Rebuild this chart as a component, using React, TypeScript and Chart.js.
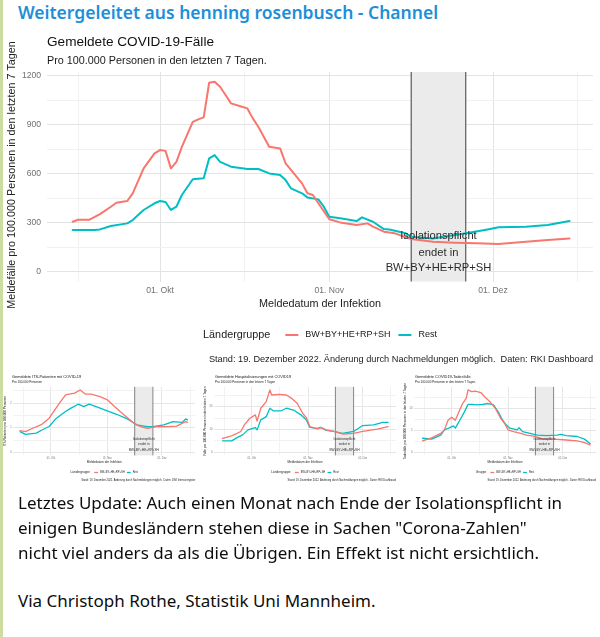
import React, { useEffect, useRef } from 'react';
import { Chart, registerables } from 'chart.js';
Chart.register(...registerables);

const FONT = '"Liberation Sans", Arial, sans-serif';
const UI_FONT = '"Noto Sans", "Open Sans", sans-serif';
const RED = '#F8766D';
const TEAL = '#00BFC4';

// ---------- shared axis data (x = days since 01.10.2022) ----------
const xMajorTicks = [0, 31, 61];
const xTickLabels = ['01. Okt', '01. Nov', '01. Dez'];
const xMinorTicks = [-15, 15.5, 46, 76.5];
const isolationStart = 46;
const isolationEnd = 56;
const annotationLines = ['Isolationspflicht', 'endet in', 'BW+BY+HE+RP+SH'];
const seriesNames = ['BW+BY+HE+RP+SH', 'Rest'];

// ---------- main chart: Gemeldete COVID-19-Fälle ----------
const casesYMajor = [0, 300, 600, 900, 1200];
const casesYMinor = [150, 450, 750, 1050];
const casesYLabels = ['0', '300', '600', '900', '1200'];
const casesRedDays = [-16, -15, -13, -11, -9, -8, -6, -5, -3, -1, 0, 1, 2, 3, 4, 6, 7, 8, 9, 10, 11, 12, 13, 15, 16, 17, 18, 20, 22, 23, 25, 26, 27, 28, 29, 31, 33, 36, 38, 39, 41, 43, 46, 50, 54, 58, 62, 67, 71, 75];
const casesRedValues = [306, 318, 318, 353, 398, 422, 433, 480, 633, 725, 745, 740, 633, 673, 765, 918, 933, 945, 1157, 1163, 1133, 1082, 1031, 1010, 1000, 939, 888, 765, 755, 663, 582, 541, 480, 470, 419, 321, 302, 286, 296, 276, 245, 235, 200, 184, 178, 174, 170, 184, 194, 204];
const casesTealDays = [-16, -12, -11, -9, -6, -5, -3, -1, 0, 1, 2, 3, 4, 6, 8, 9, 10, 11, 13, 16, 18, 20, 22, 23, 24, 26, 27, 29, 30, 31, 33, 36, 37, 39, 41, 42, 45, 46, 50, 56, 60, 62, 67, 71, 75];
const casesTealValues = [255, 255, 259, 280, 296, 316, 378, 419, 433, 427, 378, 398, 470, 566, 572, 694, 714, 673, 643, 629, 629, 602, 592, 561, 510, 480, 455, 443, 398, 337, 327, 310, 333, 306, 261, 259, 235, 214, 204, 235, 259, 272, 276, 286, 310];

// ---------- mini 1: ITS-Patienten ----------
const itsYMajor = [0, 1, 2];
const itsYMinor = [0.5, 1.5, 2.5];
const itsYLabels = ['0', '1', '2'];
const itsRedDays = [-17, -14, -10, -5, -1, 4, 8, 10, 13, 16, 19, 22, 27, 31, 34, 38, 42, 45, 49, 53, 58, 64, 69, 74, 75];
const itsRedValues = [0.88, 0.84, 0.98, 1.14, 1.39, 1.93, 2.34, 2.37, 2.41, 2.54, 2.37, 2.37, 2.27, 2.14, 1.93, 1.66, 1.41, 1.22, 1.05, 0.98, 1.05, 1.05, 1.07, 1.25, 1.22];
const itsTealDays = [-17, -14, -8, -5, -1, 3, 8, 11, 15, 18, 21, 27, 32, 36, 42, 47, 53, 56, 62, 67, 72, 74, 75];
const itsTealValues = [0.84, 0.73, 0.78, 0.91, 1.05, 1.39, 1.66, 1.8, 1.96, 1.86, 1.96, 1.8, 1.66, 1.55, 1.36, 1.12, 1.05, 1.05, 1.12, 1.25, 1.22, 1.36, 1.32];

// ---------- mini 2: Hospitalisierungen ----------
const hospYMajor = [0, 10, 20];
const hospYMinor = [5, 15, 25];
const hospYLabels = ['0', '10', '20'];
const hospRedDays = [-16, -12, -8, -6, -4, -1, 2, 3, 5, 8, 10, 11, 15, 19, 22, 25, 28, 30, 32, 36, 38, 41, 45, 50, 56, 61, 69, 75];
const hospRedValues = [6.1, 6.9, 8.3, 9.1, 12, 14.9, 16.4, 13.7, 19.3, 22.2, 27.3, 25.1, 25.4, 25.1, 23.6, 21.5, 17.1, 15.2, 11.2, 10.2, 10.8, 9.8, 9.1, 8.0, 8.3, 9.1, 10.1, 11.2];
const hospTealDays = [-16, -11, -8, -5, -2, 2, 3, 5, 8, 10, 12, 16, 19, 23, 27, 30, 32, 36, 38, 41, 45, 50, 56, 61, 67, 72, 75];
const hospTealValues = [5.0, 5.0, 6.4, 7.6, 9.8, 10.8, 9.8, 14.2, 15.6, 19.3, 18.1, 18.1, 19.3, 18.5, 16.4, 14.2, 10.9, 10.5, 10.9, 9.6, 9.1, 8.3, 9.1, 11.7, 12.0, 13.1, 13.1];

// ---------- mini 3: Todesfälle ----------
const deathYMajor = [0, 5, 10];
const deathYMinor = [2.5, 7.5, 12.5];
const deathYLabels = ['0', '5', '10'];
const deathRedDays = [-16, -11, -6, -4, -2, 0, 2, 4, 6, 8, 9, 11, 13, 16, 18, 21, 24, 27, 29, 31, 34, 38, 41, 45, 50, 56, 63, 69, 73, 76];
const deathRedValues = [2.6, 3.3, 4.3, 5.1, 7.3, 8.0, 7.3, 9.2, 11.1, 12.3, 14.2, 13.8, 13.9, 13.6, 12.7, 11.5, 10.0, 7.7, 6.6, 5.1, 4.7, 4.3, 3.9, 3.7, 3.0, 3.0, 2.8, 2.6, 2.2, 1.7];
const deathTealDays = [-16, -11, -6, -4, -1, 1, 2, 5, 7, 9, 11, 14, 17, 20, 23, 26, 28, 30, 32, 36, 37, 39, 43, 47, 52, 58, 60, 63, 69, 73, 76];
const deathTealValues = [3.2, 3.0, 3.9, 5.1, 5.6, 6.0, 5.5, 7.7, 9.2, 10.9, 10.9, 10.8, 10.9, 11.1, 10.8, 8.9, 7.3, 6.2, 5.5, 5.1, 5.6, 4.7, 4.3, 3.9, 3.8, 3.9, 4.1, 3.8, 3.6, 3.0, 2.0];

// ---------- texts ----------
const headerText = 'Weitergeleitet aus henning rosenbusch - Channel';
const bodyLines = [
  'Letztes Update: Auch einen Monat nach Ende der Isolationspflicht in',
  'einigen Bundesländern stehen diese in Sachen "Corona-Zahlen"',
  'nicht viel anders da als die Übrigen. Ein Effekt ist nicht ersichtlich.',
];
const viaLine = 'Via Christoph Rothe, Statistik Uni Mannheim.';
const captionRKI = 'Stand: 19. Dezember 2022. Änderung durch Nachmeldungen möglich.  Daten: RKI Dashboard';
const captionDIVI = 'Stand: 19. Dezember 2022. Änderung durch Nachmeldungen möglich.  Daten: DIVI Intensivregister';

type Fonts = { title: number; subtitle: number; axisTitle: number; tick: number; legendTitle: number; legendText: number; caption: number; annot: number };
type Spec = {
  width: number; height: number;
  area: { left: number; top: number; right: number; bottom: number };
  xMin: number; xMax: number; yMin: number; yMax: number;
  yMajor: number[]; yMinor: number[]; yLabels: string[];
  red: { days: number[]; values: number[] };
  teal: { days: number[]; values: number[] };
  title: string; subtitle: string; yTitle: string; xTitle: string; legendTitle: string; caption: string;
  fonts: Fonts; s: number; lineWidth: number; rectLine: number;
  tickPadX: number; tickPadY: number;
  pos: { titleX: number; titleY: number; subtitleY: number; yTitleX: number; yTitleY: number; xTitleY: number; legendY: number; captionY: number; annotY: number[] };
};

function text(ctx: CanvasRenderingContext2D, str: string, x: number, y: number, size: number, color: string, align: CanvasTextAlign = 'left') {
  ctx.font = `${size}px ${FONT}`;
  ctx.fillStyle = color;
  ctx.textAlign = align;
  ctx.textBaseline = 'middle';
  ctx.fillText(str, x, y);
}

function ggPlugin(spec: Spec) {
  return {
    id: 'ggDecor',
    beforeDatasetsDraw(chart: any) {
      const { ctx, chartArea: ca, scales } = chart;
      const x0 = scales.x.getPixelForValue(isolationStart);
      const x1 = scales.x.getPixelForValue(isolationEnd);
      ctx.save();
      ctx.fillStyle = '#ebebeb';
      ctx.fillRect(x0, ca.top, x1 - x0, ca.bottom - ca.top);
      ctx.strokeStyle = '#3c3c3c';
      ctx.lineWidth = spec.rectLine;
      ctx.beginPath();
      ctx.moveTo(x0, ca.top); ctx.lineTo(x0, ca.bottom);
      ctx.moveTo(x1, ca.top); ctx.lineTo(x1, ca.bottom);
      ctx.stroke();
      ctx.restore();
    },
    afterDatasetsDraw(chart: any) {
      const { ctx, chartArea: ca, scales } = chart;
      const f = spec.fonts;
      const p = spec.pos;
      const s = spec.s;
      ctx.save();
      const xc = (scales.x.getPixelForValue(isolationStart) + scales.x.getPixelForValue(isolationEnd)) / 2;
      annotationLines.forEach((l, i) => text(ctx, l, xc, p.annotY[i], f.annot, '#2b2b2b', 'center'));
      text(ctx, spec.title, p.titleX, p.titleY, f.title, '#111111');
      text(ctx, spec.subtitle, p.titleX, p.subtitleY, f.subtitle, '#1a1a1a');
      const cx = (ca.left + ca.right) / 2;
      text(ctx, spec.xTitle, cx, p.xTitleY, f.axisTitle, '#222222', 'center');
      ctx.save();
      ctx.translate(p.yTitleX, p.yTitleY);
      ctx.rotate(-Math.PI / 2);
      text(ctx, spec.yTitle, 0, 0, f.axisTitle, '#222222', 'center');
      ctx.restore();
      // legend
      ctx.font = `${f.legendTitle}px ${FONT}`;
      const wTitle = ctx.measureText(spec.legendTitle).width;
      ctx.font = `${f.legendText}px ${FONT}`;
      const wA = ctx.measureText(seriesNames[0]).width;
      const wB = ctx.measureText(seriesNames[1]).width;
      const titleGap = 15 * s, keyW = 13 * s, keyGap = 7 * s, itemGap = 8 * s;
      const total = wTitle + titleGap + keyW + keyGap + wA + itemGap + keyW + keyGap + wB;
      let lx = cx - total / 2;
      const ly = p.legendY;
      text(ctx, spec.legendTitle, lx, ly, f.legendTitle, '#1a1a1a');
      lx += wTitle + titleGap;
      const key = (color: string) => {
        ctx.strokeStyle = color;
        ctx.lineWidth = spec.lineWidth;
        ctx.beginPath();
        ctx.moveTo(lx, ly); ctx.lineTo(lx + keyW, ly);
        ctx.stroke();
        lx += keyW + keyGap;
      };
      key(RED);
      text(ctx, seriesNames[0], lx, ly, f.legendText, '#1a1a1a');
      lx += wA + itemGap;
      key(TEAL);
      text(ctx, seriesNames[1], lx, ly, f.legendText, '#1a1a1a');
      text(ctx, spec.caption, ca.right, p.captionY, f.caption, '#1a1a1a', 'right');
      ctx.restore();
    },
  };
}

function buildConfig(spec: Spec): any {
  const a = spec.area;
  const f = spec.fonts;
  const xAll = [...xMinorTicks, ...xMajorTicks].sort((m, n) => m - n);
  const yAll = [...spec.yMinor, ...spec.yMajor].sort((m, n) => m - n);
  const major = spec.s > 0.5 ? '#e3e3e3' : '#e6e6e6';
  const minor = spec.s > 0.5 ? '#f1f1f1' : '#f2f2f2';
  return {
    type: 'line',
    data: {
      datasets: [
        { label: seriesNames[0], data: spec.red.days.map((d, i) => ({ x: d, y: spec.red.values[i] })), borderColor: RED },
        { label: seriesNames[1], data: spec.teal.days.map((d, i) => ({ x: d, y: spec.teal.values[i] })), borderColor: TEAL },
      ].map((ds) => ({ ...ds, borderWidth: spec.lineWidth, pointRadius: 0, tension: 0, fill: false, borderJoinStyle: 'round', borderCapStyle: 'round' })),
    },
    options: {
      animation: false,
      responsive: false,
      devicePixelRatio: 1,
      events: [],
      layout: { padding: { left: 0, top: a.top, right: spec.width - a.right, bottom: 0 } },
      plugins: { legend: { display: false }, tooltip: { enabled: false }, title: { display: false } },
      scales: {
        x: {
          type: 'linear', min: spec.xMin, max: spec.xMax,
          afterFit: (sc: any) => { sc.height = spec.height - a.bottom; },
          afterBuildTicks: (sc: any) => { sc.ticks = xAll.map((v) => ({ value: v })); },
          ticks: {
            autoSkip: false, maxRotation: 0, minRotation: 0, padding: spec.tickPadX, color: '#707070',
            font: { family: FONT, size: f.tick },
            callback: (v: number) => { const i = xMajorTicks.indexOf(v); return i >= 0 ? xTickLabels[i] : ''; },
          },
          grid: {
            drawTicks: false,
            color: (c: any) => (xMajorTicks.includes(c.tick.value) ? major : minor),
            lineWidth: 1,
          },
          border: { display: false },
        },
        y: {
          type: 'linear', min: spec.yMin, max: spec.yMax,
          afterFit: (sc: any) => { sc.width = a.left; },
          afterBuildTicks: (sc: any) => { sc.ticks = yAll.map((v) => ({ value: v })); },
          ticks: {
            autoSkip: false, padding: spec.tickPadY, color: '#707070',
            font: { family: FONT, size: f.tick },
            callback: (v: number) => { const i = spec.yMajor.indexOf(v); return i >= 0 ? spec.yLabels[i] : ''; },
          },
          grid: {
            drawTicks: false,
            color: (c: any) => (spec.yMajor.includes(c.tick.value) ? major : minor),
            lineWidth: 1,
          },
          border: { display: false },
        },
      },
    },
    plugins: [ggPlugin(spec)],
  };
}

function GgChart({ spec, left, top }: { spec: Spec; left: number; top: number }) {
  const ref = useRef<HTMLCanvasElement>(null);
  useEffect(() => {
    const chart = new Chart(ref.current as HTMLCanvasElement, buildConfig(spec));
    return () => chart.destroy();
  }, [spec]);
  return (
    <canvas ref={ref} width={spec.width} height={spec.height}
      style={{ position: 'absolute', left, top, width: spec.width, height: spec.height }} />
  );
}

const mainFonts: Fonts = { title: 13.6, subtitle: 10.8, axisTitle: 10.8, tick: 8.6, legendTitle: 10.8, legendText: 9, caption: 9.2, annot: 11.2 };
const k = 0.29;
const miniFonts: Fonts = { title: 3.9, subtitle: 3.0, axisTitle: 3.1, tick: 2.6, legendTitle: 3.1, legendText: 2.6, caption: 2.6, annot: 3.2 };

const mainSpec: Spec = {
  width: 600, height: 340,
  area: { left: 47, top: 42, right: 593, bottom: 251.5 },
  xMin: -20.7, xMax: 79.3, yMin: -60, yMax: 1223,
  yMajor: casesYMajor, yMinor: casesYMinor, yLabels: casesYLabels,
  red: { days: casesRedDays, values: casesRedValues },
  teal: { days: casesTealDays, values: casesTealValues },
  title: 'Gemeldete COVID-19-Fälle',
  subtitle: 'Pro 100.000 Personen in den letzten 7 Tagen.',
  yTitle: 'Meldefälle pro 100.000 Personen in den letzten 7 Tagen',
  xTitle: 'Meldedatum der Infektion',
  legendTitle: 'Ländergruppe',
  caption: captionRKI,
  fonts: mainFonts, s: 1, lineWidth: 2, rectLine: 1,
  tickPadX: 4, tickPadY: 6,
  pos: { titleX: 47, titleY: 12.5, subtitleY: 31, yTitleX: 12, yTitleY: 145, xTitleY: 274, legendY: 305, captionY: 329, annotY: [205.7, 222.7, 238] },
};

const miniPos = (titleX: number) => ({ titleX, titleY: 9.3, subtitleY: 14.3, yTitleX: 5, yTitleY: 53.1, xTitleY: 94.3, legendY: 104.5, captionY: 112.7, annotY: [71, 76.3, 82] });
const miniBase = {
  width: 200, height: 122,
  xMin: -20.7, xMax: 79.3,
  xTitle: 'Meldedatum der Infektion',
  fonts: miniFonts, s: k, lineWidth: 1.3, rectLine: 0.6,
  tickPadX: 1.1, tickPadY: 1.5,
};

const itsSpec: Spec = {
  ...miniBase,
  area: { left: 13.3, top: 18.8, right: 195.3, bottom: 87.4 },
  yMin: -0.127, yMax: 2.67,
  yMajor: itsYMajor, yMinor: itsYMinor, yLabels: itsYLabels,
  red: { days: itsRedDays, values: itsRedValues },
  teal: { days: itsTealDays, values: itsTealValues },
  title: 'Gemeldete ITS-Patienten mit COVID-19',
  subtitle: 'Pro 100.000 Personen',
  yTitle: 'ITS-Patienten pro 100.000 Personen',
  legendTitle: 'Ländergruppe',
  caption: captionDIVI,
  pos: miniPos(12),
};

const hospSpec: Spec = {
  ...miniBase,
  area: { left: 14, top: 18.8, right: 196, bottom: 87.4 },
  yMin: -1.4, yMax: 28.7,
  yMajor: hospYMajor, yMinor: hospYMinor, yLabels: hospYLabels,
  red: { days: hospRedDays, values: hospRedValues },
  teal: { days: hospTealDays, values: hospTealValues },
  title: 'Gemeldete Hospitalisierungen mit COVID19',
  subtitle: 'Pro 100.000 Personen in den letzten 7 Tagen',
  yTitle: 'Fälle pro 100.000 Personen in den letzten 7 Tagen',
  legendTitle: 'Ländergruppe',
  caption: captionRKI,
  pos: miniPos(15),
};

const deathSpec: Spec = {
  ...miniBase,
  area: { left: 14, top: 18.8, right: 196, bottom: 87.4 },
  yMin: -0.7, yMax: 14.9,
  yMajor: deathYMajor, yMinor: deathYMinor, yLabels: deathYLabels,
  red: { days: deathRedDays, values: deathRedValues },
  teal: { days: deathTealDays, values: deathTealValues },
  title: 'Gemeldete COVID19-Todesfälle',
  subtitle: 'Pro 100.000 Personen in den letzten 7 Tagen.',
  yTitle: 'Todesfälle pro 100.000 Personen in den letzten 7 Tagen',
  legendTitle: 'Gruppe',
  caption: captionRKI,
  pos: miniPos(15),
};

export default function App() {
  const bodyStyle: React.CSSProperties = {
    position: 'absolute', left: 18, font: `17px ${UI_FONT}`, color: '#0d0d0d',
    lineHeight: '25px', whiteSpace: 'nowrap',
  };
  return (
    <div style={{ position: 'absolute', left: 0, top: 0, width: 600, height: 637, background: '#ffffff', overflow: 'hidden' }}>
      <div style={{ position: 'absolute', left: 0, top: 0, width: 3, height: 637, background: '#cddd9f' }} />
      <div style={{ position: 'absolute', left: 18, top: 0, height: 25, lineHeight: '25px', font: `600 17.5px ${UI_FONT}`, color: '#1d8fd8', whiteSpace: 'nowrap' }}>
        {headerText}
      </div>
      <GgChart spec={mainSpec} left={0} top={30} />
      <GgChart spec={itsSpec} left={0} top={368} />
      <GgChart spec={hospSpec} left={200} top={368} />
      <GgChart spec={deathSpec} left={400} top={368} />
      {bodyLines.map((l, i) => (
        <div key={i} style={{ ...bodyStyle, top: 490 + i * 25 }}>{l}</div>
      ))}
      <div style={{ ...bodyStyle, top: 588 }}>{viaLine}</div>
    </div>
  );
}
